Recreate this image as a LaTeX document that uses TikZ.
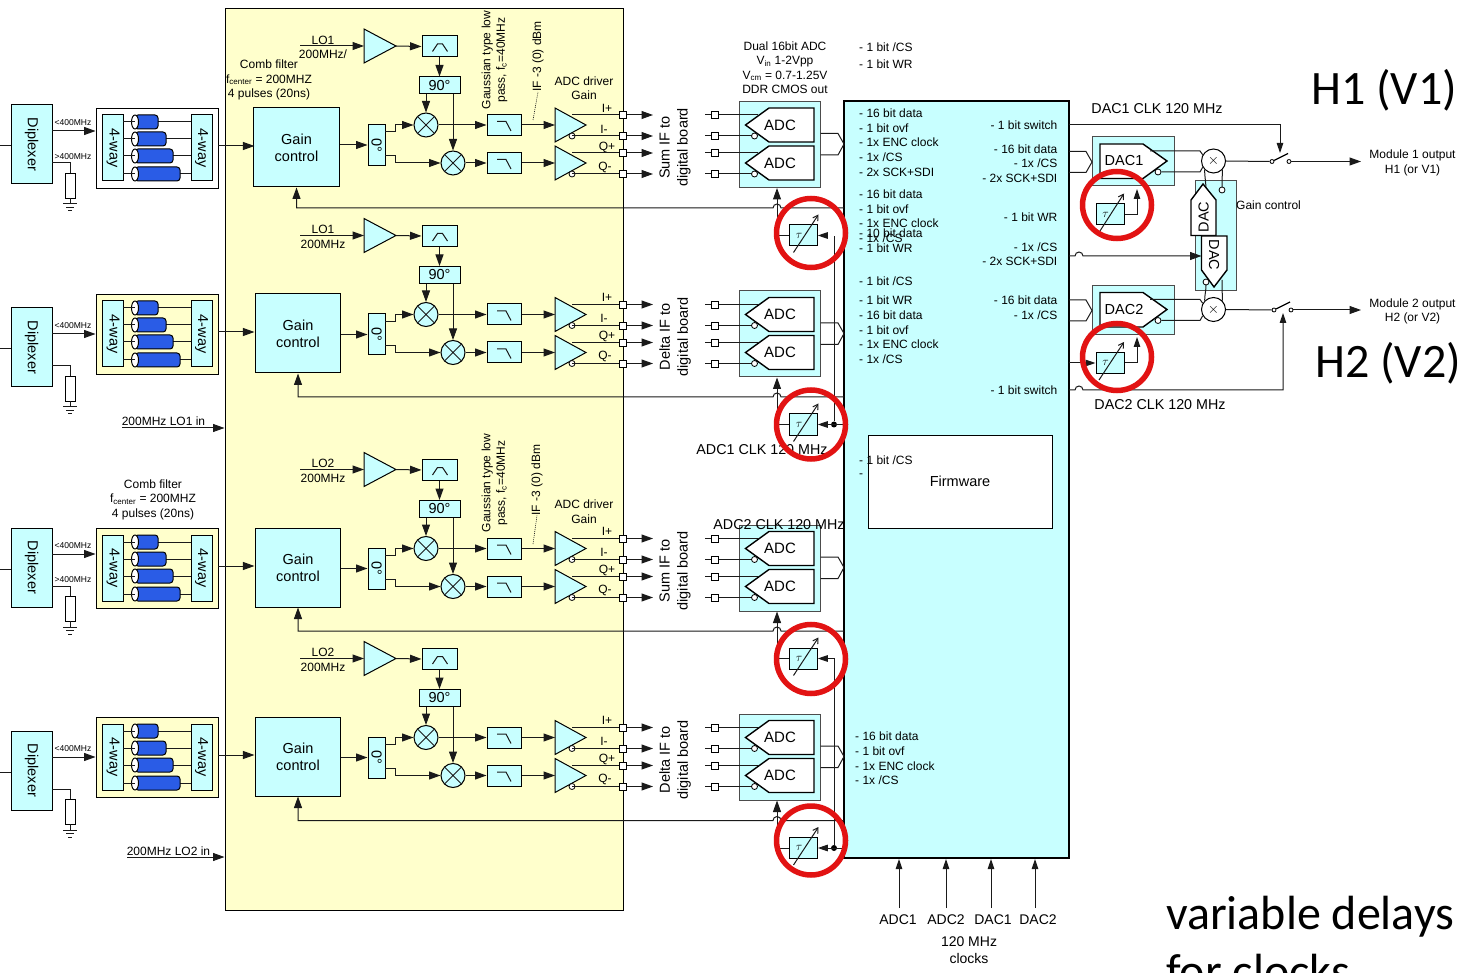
\documentclass[tikz,border=0pt]{standalone}
\usepackage{fontspec}
\setmainfont{Liberation Sans}
\newfontfamily\slidefont{Carlito}
\usetikzlibrary{arrows.meta,calc}
\definecolor{boxcyan}{HTML}{C8FFFF}
\definecolor{panelyellow}{HTML}{FFFFCC}
\definecolor{cableblue}{HTML}{2A5CE6}
\definecolor{ringred}{HTML}{E21313}
\definecolor{wire}{HTML}{1A1A1A}

\begin{document}
\begin{tikzpicture}[x=1pt,y=-1pt,
    block/.style 2 args={draw=black,line width=1pt,fill=boxcyan,inner sep=0pt,
      minimum width=#1pt,minimum height=#2pt,font=\fontsize{14.5}{17}\selectfont,align=center},
    outline/.style={draw=black,line width=1.4pt,fill=white},
    ampshape/.style={draw=black,line width=1pt,fill=boxcyan},
    lin/.style={draw=wire,line width=1pt},
    sig/.style={lin,-{Triangle[length=11.5pt,width=8pt]}},
    ctl/.style={lin,-{Triangle[length=10pt,width=6.5pt]}},
    txt/.style={inner sep=0pt,font=\fontsize{12}{14.5}\selectfont,align=center},
    tinytxt/.style={inner sep=0pt,font=\fontsize{8.5}{10}\selectfont},
    listtxt/.style={inner sep=0pt,font=\fontsize{12}{14}\selectfont},
    slide/.style={inner sep=0pt,anchor=base west,font=\slidefont\fontsize{48}{52}\selectfont},
    bub/.style={circle,draw=black,line width=.8pt,fill=white,inner sep=0pt,minimum size=6pt},
    sqr/.style={draw=black,line width=.8pt,fill=white,inner sep=0pt,minimum size=7pt},
    mix/.style={circle,draw=black,line width=1pt,fill=boxcyan,inner sep=0pt,minimum size=24pt},
    dot/.style={circle,fill=black,inner sep=0pt,minimum size=6pt},
    ring/.style={draw=ringred,line width=5.5pt}]
  \useasboundingbox (0,0) rectangle (1470,973);
  \fill[white] (0,0) rectangle (1470,973);

  % Yellow panel and FPGA block
  \node[draw=black,line width=1pt,fill=panelyellow,minimum width=398pt,minimum height=901pt,inner sep=0pt] (panel) at (424,459.5) {};
  \node[draw=black,line width=1.3pt,fill=boxcyan,minimum width=225pt,minimum height=757pt,inner sep=0pt] (fpga) at (956.5,479.5) {};

  % The four receive channels
  \foreach \ch/\rb/\tb/\db/\gx/\lon/\lofr/\ifn/\dy/\fb/\wf in {
      1/104/108/105/296.5/LO1/{200MHz/}/Sum/235.5/208/white,
      2/293.5/294/308/298/LO1/200MHz/Delta/424.5/397/panelyellow,
      3/527.5/528/528/298/LO2/200MHz/Sum/658.5/631/panelyellow,
      4/716.5/717/731/298/LO2/200MHz/Delta/848/820.5/panelyellow} {

    % 4-way comb filter
    \begin{scope}[shift={(0,\tb)}]
      \node[draw=black,line width=.9pt,fill=\wf,minimum width=122pt,minimum height=80pt,inner sep=0pt] (way\ch) at (157,40) {};
      \node[block={21}{66}] (wayl\ch) at (113,40) {\rotatebox{-90}{4-way}};
      \node[block={21}{66}] (wayr\ch) at (201.5,40) {\rotatebox{-90}{4-way}};
      \foreach \cy/\ce in {14/158,31/166,48/173,66/180} {
        \draw[lin] (\ce,\cy) -- (191,\cy);
        \draw[draw=black,line width=1pt,fill=cableblue,rounded corners=3pt] (135,\cy-7) -- (\ce,\cy-7) -- (\ce,\cy+7) -- (135,\cy+7) -- cycle;
        \draw[draw=black,line width=1pt,fill=white] (135,\cy) ellipse (3.5pt and 7pt);
        \draw[lin] (123,\cy) -- (135,\cy);
      }
      \node[block={85.5}{79}] (gain\ch) at (\gx,39.5) {Gain\\control};
    \end{scope}
    \draw[sig] (way\ch.east |- gain\ch.west) ++(0,-1.5) -- ++(36,0);

    % Diplexer with its load
    \begin{scope}[shift={(0,\db)}]
      \node[block={41}{79}] (dip\ch) at (31.5,39.5) {\rotatebox{-90}{Diplexer}};
      \coordinate (in\ch) at (0,41);
      \coordinate (low\ch) at (52,26);
      \coordinate (high\ch) at (52,58);
      \node[draw=black,line width=.8pt,fill=white,minimum width=10pt,minimum height=25pt,inner sep=0pt] (load\ch) at (70,80.5) {};
      \coordinate (gnd\ch) at (70,99);
      \node[tinytxt] (lowt\ch) at (73,18) {<400MHz};
      \draw[lin] (in\ch) -- (in\ch -| dip\ch.west);
      \draw[sig] (low\ch) -- (low\ch -| way\ch.west);
      \draw[lin] (high\ch) -| (load\ch.north);
      \draw[lin] (load\ch.south) -- (gnd\ch);
      \draw[lin] (63,99) -- (77,99) (66,102.5) -- (74,102.5) (68,106) -- (72,106);
    \end{scope}

    % Mixers, filters and amplifiers
    \begin{scope}[shift={(0,\rb)}]
      \node[block={17}{41}] (zero\ch) at (376.5,41) {\rotatebox{-90}{0°}};
      \draw[sig] (gain\ch.east |- zero\ch.west) -- (zero\ch.west);
      \coordinate (lostart\ch) at (300,-58);
      \node[txt] (lon\ch) at (323,-64) {\lon};
      \node[txt] (lof\ch) at (323,-49.5) {\lofr};
      \draw[ampshape] (364,-75) -- (396,-58) -- (364,-41) -- cycle;
      \coordinate (loamp\ch) at (364,-58);
      \coordinate (loout\ch) at (396,-58);
      \draw[sig] (lostart\ch) -- (loamp\ch);
      \node[block={35}{21}] (bp\ch) at (439.5,-57.5) {};
      \draw[lin,shift={(bp\ch.center)}] (-7,5) -- (-2,-2.5) -- (3,-2.5) -- (8,5);
      \node[block={41}{17}] (nin\ch) at (439.5,-18.5) {90°};
      \draw[sig] (loout\ch) -- (bp\ch.west);
      \draw[sig] (bp\ch.south) -- (nin\ch.north);
      \node[mix] (mixa\ch) at (426,21) {};
      \node[mix] (mixb\ch) at (453,59) {};
      \draw[lin] (mixa\ch.45) -- (mixa\ch.225) (mixa\ch.135) -- (mixa\ch.315);
      \draw[lin] (mixb\ch.45) -- (mixb\ch.225) (mixb\ch.135) -- (mixb\ch.315);
      \draw[sig] (mixa\ch.north |- nin\ch.south) -- (mixa\ch.north);
      \draw[sig] (mixb\ch.north |- nin\ch.south) -- (mixb\ch.north);
      \coordinate (zeroa\ch) at (385,28);
      \coordinate (zerob\ch) at (385,52);
      \draw[sig] (zeroa\ch) -- ++(10,0) |- (mixa\ch.west);
      \draw[sig] (zerob\ch) -- ++(10,0) |- (mixb\ch.west);
      \node[block={34}{21}] (lpa\ch) at (504,21) {};
      \node[block={34}{21}] (lpb\ch) at (504,59) {};
      \draw[lin,shift={(lpa\ch.center)}] (-7,-3.5) -- (2,-3.5) -- (7,6);
      \draw[lin,shift={(lpb\ch.center)}] (-7,-3.5) -- (2,-3.5) -- (7,6);
      \draw[sig] (mixa\ch.east) -- (lpa\ch.west);
      \draw[sig] (mixb\ch.east) -- (lpb\ch.west);
      \coordinate (ampa\ch) at (555,21);
      \coordinate (ampb\ch) at (555,59);
      \draw[sig] (lpa\ch.east) -- (ampa\ch);
      \draw[sig] (lpb\ch.east) -- (ampb\ch);
      \draw[ampshape] (555,4) -- (586,21) -- (555,38) -- cycle;
      \draw[ampshape] (555,42) -- (586,59) -- (555,76) -- cycle;
      \node[bub] (buba\ch) at (572,32) {};
      \node[bub] (bubb\ch) at (572,70) {};

      % ADC pair
      \node[draw=black!70,line width=1pt,fill=boxcyan,minimum width=81pt,minimum height=86pt,inner sep=0pt] (adcbox\ch) at (779.5,40.5) {};
      \foreach \ly/\nm/\lbl/\lx/\ty in {11/ip/I+/607/4,32/im/I-/604/25,49/qp/Q+/607/43,70/qm/Q-/605/63} {
        \node[txt] (t\nm\ch) at (\lx,\ty) {\lbl};
        \coordinate (a\nm\ch) at (572,\ly);
        \coordinate (e\nm\ch) at (653,\ly);
        \coordinate (s\nm\ch) at (705,\ly);
        \coordinate (d\nm\ch) at (758,\ly);
        \node[sqr] (o\nm\ch) at (623,\ly) {};
        \node[sqr] (i\nm\ch) at (715,\ly) {};
        \draw[lin] (a\nm\ch) -- (o\nm\ch);
        \draw[sig] (o\nm\ch) -- (e\nm\ch);
        \draw[lin] (s\nm\ch) -- (i\nm\ch) -- (d\nm\ch);
      }
      \draw[outline] (745.5,21) -- (769,4) -- (814,4) -- (814,38) -- (769,38) -- cycle;
      \draw[outline] (745.5,59) -- (769,42) -- (814,42) -- (814,76) -- (769,76) -- cycle;
      \node[txt,font=\fontsize{15}{17}\selectfont] (adca\ch) at (780,21) {ADC};
      \node[txt,font=\fontsize{15}{17}\selectfont] (adcb\ch) at (780,59) {ADC};
      \node[bub] (bad\ch) at (754.5,32) {};
      \node[bub] (bbd\ch) at (754.5,70) {};
      \draw[lin] (adcbox\ch.east |- 0,29.5) -- (838,29.5) -- (844,40) -- (838,51) -- (adcbox\ch.east |- 0,51);
      \node[txt,font=\fontsize{14.5}{18}\selectfont,rotate=90] (ifl\ch) at (675,43.5) {\ifn{} IF to\\digital board};
    \end{scope}

    % Feedback to gain control, delay and clock to ADC
    \coordinate (fb\ch) at (844,\fb);
    \draw[sig] (fb\ch) -- (781,\fb) arc[start angle=0,end angle=180,radius=4pt] -| (gain\ch.south);
    \node[block={27.5}{21}] (dly\ch) at (803.5,\dy) {\fontsize{13}{13}\selectfont$\tau$\hspace{9pt}};
    \draw[sig] (dly\ch.west) -| (adcbox\ch.south -| 777,0);
    \draw[lin,-{Straight Barb[length=5pt,width=6pt]}] ($(dly\ch.center)+(-10,17)$) -- ($(dly\ch.center)+(15,-21)$);
  }

  % Clock wiring of the delays
  \coordinate (clka) at (844,424.5);
  \coordinate (clkb) at (844,848);
  \coordinate (gapa) at (826,235.5);
  \node[dot] (dota) at (834,424.5) {};
  \node[dot] (dotb) at (834,848) {};
  \draw[ctl] (clka) -- (dly2.east);
  \draw[ctl] (clkb) -- (dly4.east);
  \draw[ctl] (gapa) -- (dly1.east);
  \draw[lin] (dota) -- (834,236);
  \draw[ctl] (dotb) |- (dly3.east);

  % LO inputs
  \coordinate (loa) at (122,428);
  \coordinate (lob) at (127,857);
  \node[txt] (loat) at (163.5,421) {200MHz LO1 in};
  \node[txt] (lobt) at (168.5,851) {200MHz LO2 in};
  \draw[sig] (loa) -- (loa -| panel.west);
  \draw[sig] (lob) -- (lob -| panel.west);

  % Notes on the channels
  \node[tinytxt] (hia) at (73,157) {>400MHz};
  \node[tinytxt] (hib) at (73,580) {>400MHz};
  \node[txt] (comba) at (269,80) {Comb filter\\f\textsubscript{center} = 200MHZ\\4 pulses (20ns)};
  \node[txt] (combb) at (153,499.5) {Comb filter\\f\textsubscript{center} = 200MHZ\\4 pulses (20ns)};
  \node[txt,rotate=90] (gaussa) at (494.5,60) {Gaussian type low\\pass, f\textsubscript{c}=40MHz};
  \node[txt,rotate=90] (gaussb) at (494.5,483) {Gaussian type low\\pass, f\textsubscript{c}=40MHz};
  \node[txt,rotate=90] (ifa) at (538,56.5) {IF -3 (0) dBm};
  \node[txt,rotate=90] (ifb) at (537,480) {IF -3 (0) dBm};
  \draw[lin,densely dotted,line width=.6pt] (533,120) -- (ifa.west);
  \draw[lin,densely dotted,line width=.6pt] (533,544) -- (ifb.west);
  \node[txt] (drva) at (584,88) {ADC driver\\Gain};
  \node[txt] (drvb) at (584,511.5) {ADC driver\\Gain};
  \node[txt] (adcinfo) at (785,67.5) {Dual 16bit ADC\\V\textsubscript{in} 1-2Vpp\\V\textsubscript{cm} = 0.7-1.25V\\DDR CMOS out};
  \node[txt,font=\fontsize{14.3}{16}\selectfont] (adcka) at (762,450) {ADC1 CLK 120 MHz};
  \node[txt,font=\fontsize{14.3}{16}\selectfont] (adckb) at (779,525) {ADC2 CLK 120 MHz};

  % FPGA pin lists
  \foreach \ty/\tx in {47/{- 1 bit /CS},64/{- 1 bit WR},113/{- 16 bit data},128/{- 1 bit ovf},142/{- 1x ENC clock},157/{- 1x /CS},172/{- 2x SCK+SDI},
      194/{- 16 bit data},209/{- 1 bit ovf},223/{- 1x ENC clock},233/{- 10 bit data},238/{- 1x /CS},248/{- 1 bit WR},281/{- 1 bit /CS},300/{- 1 bit WR},
      315/{- 16 bit data},330/{- 1 bit ovf},344/{- 1x ENC clock},359/{- 1x /CS},476/{-}} {
    \node[listtxt,anchor=west] (pl\ty) at (859,\ty) {\tx};
  }
  \foreach \ty/\tx in {736/{- 16 bit data},751/{- 1 bit ovf},766/{- 1x ENC clock},780/{- 1x /CS}} {
    \node[listtxt,anchor=west] (pb\ty) at (855,\ty) {\tx};
  }
  \foreach \ty/\tx in {125/{- 1 bit switch},149/{- 16 bit data},163/{- 1x /CS},178/{- 2x SCK+SDI},217/{- 1 bit WR},247/{- 1x /CS},261/{- 2x SCK+SDI},
      300/{- 16 bit data},315/{- 1x /CS},390/{- 1 bit switch}} {
    \node[listtxt,anchor=east] (pr\ty) at (1057.5,\ty) {\tx};
  }
  \node[draw=black,line width=1pt,fill=white,minimum width=184pt,minimum height=93pt,inner sep=0pt,font=\fontsize{14.5}{16}\selectfont] (firm) at (960,481.5) {Firmware};
  \node[listtxt,anchor=west] (csfw) at (859,460) {- 1 bit /CS};

  % FPGA clocks
  \foreach \cx/\tx/\lx in {899/ADC1/898,946/ADC2/946,991/DAC1/993,1035/DAC2/1038} {
    \node[txt,font=\fontsize{14}{16}\selectfont] (c\tx) at (\lx,920) {\tx};
    \coordinate (s\tx) at (\cx,908);
    \draw[ctl] (s\tx) -- (\cx,859);
  }
  \node[txt,font=\fontsize{14}{17}\selectfont] (clkinfo) at (969,950.5) {120 MHz\\clocks};

  % DAC channels
  \foreach \ch/\dy/\mod/\out/\sx in {1/161/1/H1 (or V1)/1272,2/309.5/2/H2 (or V2)/1274} {
    \begin{scope}[shift={(0,\dy)}]
      \node[draw=black!70,line width=1pt,fill=boxcyan,minimum width=82pt,minimum height=49pt,inner sep=0pt] (dacbox\ch) at (1133,0.5) {};
      \draw[lin] (1069,-9.5) -- (1086,-9.5) -- (1092,1) -- (1086,11.5) -- (1069,11.5);
      \draw[outline] (1100,-17) -- (1143,-17) -- (1167,0) -- (1143,17.5) -- (1100,17.5) -- cycle;
      \node[txt,font=\fontsize{14.5}{17}\selectfont] (dact\ch) at (1124,0) {DAC\ch};
      \node[bub] (dacb\ch) at (1158,11) {};
      \node[circle,draw=black,line width=1pt,fill=white,inner sep=0pt,minimum size=24pt,font=\fontsize{15}{15}\selectfont] (mx\ch) at (1213.5,0) {$\times$};
      \draw[lin] (1150,-10) -- (1200,-10) -- (mx\ch.150);
      \draw[lin] (dacb\ch) -- (1200,11) -- (mx\ch.210);
      \node[circle,draw=black,line width=.8pt,fill=white,inner sep=0pt,minimum size=4pt] (swa\ch) at (\sx,0.5) {};
      \node[circle,draw=black,line width=.8pt,fill=white,inner sep=0pt,minimum size=4pt] (swb\ch) at (\sx+17,0.5) {};
      \coordinate (blade\ch) at (\sx+16,-7.5);
      \draw[line width=1.2pt] (swa\ch) -- (blade\ch);
      \draw[lin] (mx\ch.east) -- (swa\ch.west);
      \coordinate (outp\ch) at (1361,0.5);
      \draw[sig] (swb\ch.east) -- (outp\ch);
      \node[txt,font=\fontsize{12}{14.5}\selectfont] (mod\ch) at (1412.5,2) {Module \mod{} output\\\out};
    \end{scope}
  }
  % Delay blocks of the DACs
  \node[block={28}{21}] (dlyd1) at (1110,214.5) {\fontsize{13}{13}\selectfont$\tau$\hspace{9pt}};
  \node[block={28}{21}] (dlyd2) at (1110,363) {\fontsize{13}{13}\selectfont$\tau$\hspace{9pt}};
  \coordinate (ckd1) at (1137,189);
  \coordinate (ckd2) at (1137,337);
  \coordinate (ind2) at (1069,363);
  \draw[ctl] (dlyd1.east) -| (ckd1);
  \draw[ctl] (dlyd2.east) -| (ckd2);
  \draw[ctl] (ind2) -- (dlyd2.west);
  \draw[lin,-{Straight Barb[length=5pt,width=6pt]}] ($(dlyd1.center)+(-11,18)$) -- ($(dlyd1.center)+(14,-21)$);
  \draw[lin,-{Straight Barb[length=5pt,width=6pt]}] ($(dlyd2.center)+(-11,17)$) -- ($(dlyd2.center)+(14,-21)$);

  % Switch controls
  \coordinate (swca) at (1069,125);
  \coordinate (swcb) at (1069,390);
  \draw[ctl] (swca) -| (1280,153);
  \draw[ctl] (swcb) -- (1075,390) arc[start angle=180,end angle=0,radius=4pt] -| (1283,313);

  % Gain control DACs
  \node[draw=black!70,line width=1pt,fill=boxcyan,minimum width=41pt,minimum height=110pt,inner sep=0pt] (gcbox) at (1215.5,236) {};
  \draw[lin] (mx1.south west) to[out=-90,in=90] (1206,190);
  \draw[lin] (mx1.south east) to[out=-90,in=90] (1222,187);
  \draw[lin] (mx2.north west) to[out=90,in=-90] (1206,285);
  \draw[lin] (mx2.north east) to[out=90,in=-90] (1222,280);
  \draw[outline] (1203,184) -- (1216,200) -- (1216,235.5) -- (1191,235.5) -- (1191,200) -- cycle;
  \draw[outline] (1201.5,236) -- (1227,236) -- (1227,270) -- (1214,287) -- (1201.5,270) -- cycle;
  \node[txt,font=\fontsize{14.5}{17}\selectfont,rotate=90] (gdaca) at (1203.5,217) {DAC};
  \node[txt,font=\fontsize{14.5}{17}\selectfont,rotate=-90] (gdacb) at (1214,255) {DAC};
  \node[bub] (gbuba) at (1222,190) {};
  \node[bub] (gbubb) at (1206,282) {};
  \node[txt,anchor=west,font=\fontsize{12}{14}\selectfont] (gclab) at (1236,205) {Gain control};
  \coordinate (gcin) at (1069,256);
  \draw[sig] (gcin) -- (1075,256) arc[start angle=180,end angle=0,radius=4pt] -- (1201.5,256);

  % Labels on the right
  \node[txt,font=\fontsize{14.3}{16}\selectfont] (dcka) at (1157,109) {DAC1 CLK 120 MHz};
  \node[txt,font=\fontsize{14.3}{16}\selectfont] (dckb) at (1160,405) {DAC2 CLK 120 MHz};
  \node[slide] (hone) at (1311,105) {H1 (V1)};
  \node[slide] (htwo) at (1315,378) {H2 (V2)};
  \node[slide] (vardel) at (1166,929) {variable delays};
  \node[slide] (forclk) at (1166,987) {for clocks};

  % Red rings round the variable delays
  \foreach \rx/\ry/\ra/\rc in {811/233/34.5/34.5,811/424.5/34.5/34.5,811/659/34.5/34.5,811/840.5/34.5/34.5,1117/205/34.5/33.5,1117/357/34.5/33.5} {
    \draw[ring] (\rx,\ry) ellipse (\ra pt and \rc pt);
  }
\end{tikzpicture}
\end{document}
